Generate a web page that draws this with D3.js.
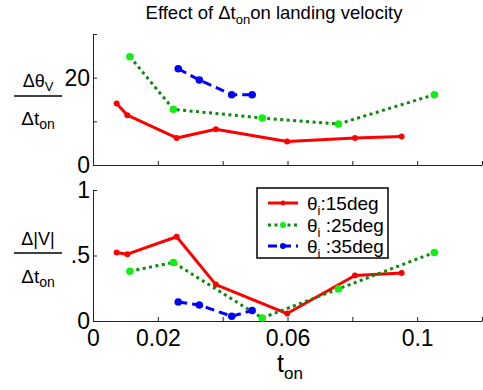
<!DOCTYPE html>
<html>
<head>
<meta charset="utf-8">
<script src="https://cdn.jsdelivr.net/npm/d3@7"></script>
<style>
  body { margin: 0; background: #fff; }
  text { font-family: "Liberation Sans", Arial, Helvetica, sans-serif; fill: #000; }
</style>
</head>
<body>
<svg id="chart" width="483" height="390"></svg>
<script>
// t_on values per landing angle
var tVals15 = [0.0073, 0.0106, 0.0258, 0.0379, 0.0599, 0.0808, 0.0952];
var tVals25 = [0.0114, 0.0248, 0.0522, 0.0757, 0.1053];
var tVals35 = [0.0263, 0.0328, 0.0428, 0.0491];

// d(theta_V)/d(t_on)
var dTheta15 = [14.1, 11.4, 6.2, 8.2, 5.4, 6.2, 6.5];
var dTheta25 = [24.8, 12.75, 10.76, 9.39, 16.1];
var dTheta35 = [22.05, 19.46, 16.1, 16.1];

// d|V|/d(t_on)
var dVel15 = [0.523, 0.51, 0.643, 0.278, 0.057, 0.347, 0.367];
var dVel25 = [0.38, 0.447, 0.023, 0.245, 0.523];
var dVel35 = [0.145, 0.122, 0.036, 0.08];

var seriesNames = ["15deg", "25deg", "35deg"];

var xTicks = [0, 0.02, 0.04, 0.06, 0.08, 0.1, 0.12];
var xTickLabels = ["0", "0.02", "", "0.06", "", "0.1", ""];
var yTicksTop = [0, 10, 20, 30];
var yTickLabelsTop = ["0", "", "20", ""];
var yTicksBottom = [0, 0.5, 1];
var yTickLabelsBottom = ["0", ".5", "1"];

var styles = [
  { line: "#ff0000", marker: "#ff0000", dash: null, r: 3 },
  { line: "#0b8a0b", marker: "#11ee11", dash: "3,3.5", r: 3.8 },
  { line: "#0000ff", marker: "#0000ff", dash: "9,5", r: 3.8 }
];

var svg = d3.select("#chart");

var x = d3.scaleLinear().domain([0, 0.12]).range([93, 482]);
var yTop = d3.scaleLinear().domain([0, 30]).range([165, 34]);
var yBot = d3.scaleLinear().domain([0, 1]).range([321, 190]);

function drawAxes(y, yTicks, yLabels, showX) {
  var ax = svg.append("g")
      .attr("transform", "translate(0," + y.range()[0] + ")")
      .call(d3.axisBottom(x)
        .tickValues(xTicks)
        .tickSizeInner(-4)
        .tickSizeOuter(0)
        .tickPadding(9)
        .tickFormat(function(d, i) { return showX ? xTickLabels[i] : ""; }));
  ax.selectAll("text").attr("font-size", 23).attr("font-family", null);
  ax.select(".domain").attr("stroke", "#222");
  ax.selectAll(".tick line").attr("stroke", "#222");

  var ay = svg.append("g")
      .attr("transform", "translate(" + x.range()[0] + ",0)")
      .call(d3.axisLeft(y)
        .tickValues(yTicks)
        .tickSizeInner(-4)
        .tickSizeOuter(0)
        .tickPadding(3)
        .tickFormat(function(d, i) { return yLabels[i]; }));
  ay.selectAll("text").attr("font-size", 23).attr("font-family", null);
  ay.select(".domain").attr("stroke", "#222");
  ay.selectAll(".tick line").attr("stroke", "#222");
}

function drawSeries(y, tVals, vals, st) {
  var pts = tVals.map(function(t, i) { return [t, vals[i]]; });
  var line = d3.line()
      .x(function(d) { return x(d[0]); })
      .y(function(d) { return y(d[1]); });
  svg.append("path")
      .datum(pts)
      .attr("fill", "none")
      .attr("stroke", st.line)
      .attr("stroke-width", 3)
      .attr("stroke-dasharray", st.dash)
      .attr("stroke-linejoin", "round")
      .attr("d", line);
  svg.append("g").selectAll("circle")
      .data(pts)
      .join("circle")
      .attr("cx", function(d) { return x(d[0]); })
      .attr("cy", function(d) { return y(d[1]); })
      .attr("r", st.r)
      .attr("fill", st.marker);
}

drawAxes(yTop, yTicksTop, yTickLabelsTop, false);
drawAxes(yBot, yTicksBottom, yTickLabelsBottom, true);

drawSeries(yTop, tVals15, dTheta15, styles[0]);
drawSeries(yTop, tVals25, dTheta25, styles[1]);
drawSeries(yTop, tVals35, dTheta35, styles[2]);
drawSeries(yBot, tVals15, dVel15, styles[0]);
drawSeries(yBot, tVals25, dVel25, styles[1]);
drawSeries(yBot, tVals35, dVel35, styles[2]);

// title
var title = svg.append("text")
    .attr("x", 274)
    .attr("y", 19)
    .attr("text-anchor", "middle")
    .attr("font-size", 18.5);
title.append("tspan").text("Effect of \u0394t");
title.append("tspan").attr("font-size", 13).attr("dy", 5).text("on");
title.append("tspan").attr("dy", -5).text("on landing velocity");

// y labels as fractions
function fraction(cy, numBase, denBase, numParts) {
  var num = svg.append("text")
      .attr("x", 38).attr("y", numBase)
      .attr("text-anchor", "middle")
      .attr("font-size", 18);
  numParts.forEach(function(p) {
    num.append("tspan").attr("font-size", p.sub ? 13 : null).attr("dy", p.dy || 0).text(p.t);
  });
  svg.append("line")
      .attr("x1", 14).attr("x2", 62)
      .attr("y1", cy).attr("y2", cy)
      .attr("stroke", "#000").attr("stroke-width", 1.3);
  var den = svg.append("text")
      .attr("x", 38).attr("y", denBase)
      .attr("text-anchor", "middle")
      .attr("font-size", 19);
  den.append("tspan").text("\u0394t");
  den.append("tspan").attr("font-size", 14).attr("dy", 4).text("on");
}
fraction(96, 87, 125, [{ t: "\u0394\u03b8" }, { t: "V", sub: true, dy: 4 }]);
fraction(253, 245, 283, [{ t: "\u0394|V|" }]);

// x label
var xl = svg.append("text")
    .attr("x", 277).attr("y", 372)
    .attr("font-size", 25);
xl.append("tspan").text("t");
xl.append("tspan").attr("font-size", 17).attr("dy", 7).text("on");

// legend
var lg = svg.append("g");
lg.append("rect")
    .attr("x", 257).attr("y", 188)
    .attr("width", 131).attr("height", 70)
    .attr("fill", "#fff").attr("stroke", "#000").attr("stroke-width", 1.5);
var legendY = [203, 225, 246];
seriesNames.forEach(function(name, i) {
  var st = styles[i];
  var yy = legendY[i];
  lg.append("line")
      .attr("x1", 268).attr("x2", 298)
      .attr("y1", yy).attr("y2", yy)
      .attr("stroke", st.line).attr("stroke-width", 3)
      .attr("stroke-dasharray", st.dash);
  lg.append("circle")
      .attr("cx", 283).attr("cy", yy).attr("r", st.r * 0.8)
      .attr("fill", st.marker);
  var t = lg.append("text")
      .attr("x", 307).attr("y", yy + 7)
      .attr("font-size", 19);
  t.append("tspan").text("\u03b8");
  t.append("tspan").attr("font-size", 13).attr("dy", 5).text("i");
  t.append("tspan").attr("dy", -5).text((i === 0 ? ":" : " :") + name);
});
</script>
</body>
</html>
